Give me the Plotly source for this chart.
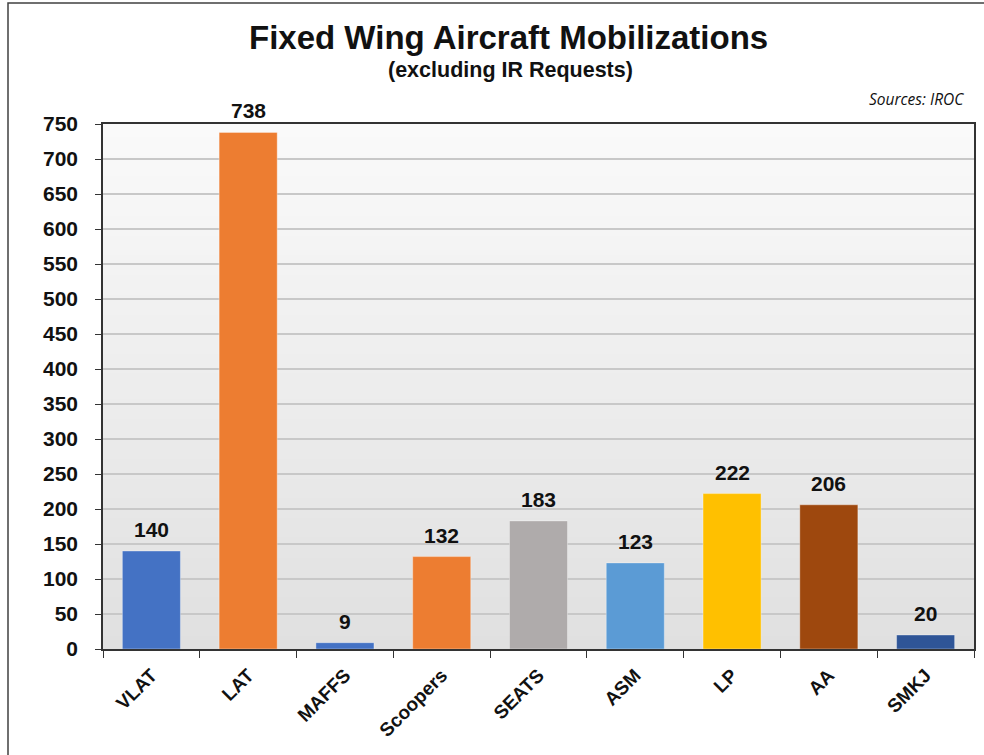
import plotly.graph_objects as go

categories = ["VLAT", "LAT", "MAFFS", "Scoopers", "SEATS", "ASM", "LP", "AA", "SMKJ"]
values = [140, 738, 9, 132, 183, 123, 222, 206, 20]
colors = ["#4472C4", "#ED7D31", "#4472C4", "#ED7D31", "#AFABAB", "#5B9BD5", "#FFC000", "#9E480E", "#2F5597"]
y_ticks = list(range(0, 751, 50))

W, H = 984, 755
L, R, T, B = 103, 10, 124, 106
pw = W - L - R
ph = H - T - B

fig = go.Figure()
fig.add_trace(go.Bar(
    x=categories, y=values, marker_color=colors, width=0.6,
    marker_line=dict(color="rgba(255,255,255,0.35)", width=1),
    cliponaxis=False,
))

annotations = []
for c, v in zip(categories, values):
    annotations.append(dict(x=c, y=v, xref="x", yref="y", text=f"<b>{v}</b>",
                            showarrow=False, yanchor="bottom", yshift=8,
                            font=dict(size=21, family="Liberation Sans, Arial", color="#111111")))

# gradient plot background
shapes = []
n = 80
for i in range(n):
    t = i / (n - 1)
    c = int(round(250 - (250 - 224) * (1 - t)))
    shapes.append(dict(type="rect", xref="x domain", yref="y domain",
                       x0=0, x1=1, y0=i / n, y1=min(1, (i + 1.6) / n),
                       fillcolor=f"rgb({c},{c},{c})", line_width=0, layer="below"))
# outer border: left x=8, top y=3, right/bottom beyond the picture
shapes.append(dict(type="rect", xref="paper", yref="paper",
                   x0=(8 - L) / pw, x1=(W + 10 - L) / pw,
                   y0=-(B + 10) / ph, y1=1 + (T - 3) / ph,
                   line=dict(color="#404040", width=1.5), fillcolor="rgba(0,0,0,0)"))

annotations += [
    dict(text="<b>Fixed Wing Aircraft Mobilizations</b>", xref="paper", yref="paper",
         x=(508 - L) / pw, y=1.0, yshift=T - 37, xanchor="center", yanchor="middle", showarrow=False,
         font=dict(size=33, family="Liberation Sans Narrow, Liberation Sans, Arial")),
    dict(text="<b>(excluding IR Requests)</b>", xref="paper", yref="paper",
         x=(510 - L) / pw, y=1.0, yshift=T - 70, xanchor="center", yanchor="middle", showarrow=False,
         font=dict(size=21.5, family="Liberation Sans Narrow, Liberation Sans, Arial")),
    dict(text="<i>Sources: IROC</i>", xref="paper", yref="paper",
         x=(966 - L) / pw, y=1.0, yshift=T - 99, xanchor="right", yanchor="middle", showarrow=False,
         font=dict(size=15.5, family="Open Sans, Lato")),
]

fig.update_layout(
    width=W, height=H,
    margin=dict(l=L, r=R, t=T, b=B),
    paper_bgcolor="white", plot_bgcolor="rgba(0,0,0,0)",
    showlegend=False, shapes=shapes, bargap=0.4,
    font=dict(family="Liberation Sans, Arial", color="#111111"),
    annotations=annotations,
)
fig.update_xaxes(
    type="category", tickangle=-45, tickson="boundaries", ticks="outside", ticklen=7,
    tickcolor="#333333", showline=True, linecolor="#333333", linewidth=1.5, mirror=True,
    tickfont=dict(size=19, family="Liberation Sans, Arial", weight="bold"), showgrid=False,
    ticklabelstandoff=6, automargin=False,
)
fig.update_yaxes(
    range=[0, 750], tickvals=y_ticks, ticks="outside", ticklen=6, tickcolor="#333333",
    showline=True, linecolor="#333333", linewidth=1.5, mirror=True,
    gridcolor="#c8c8c8", gridwidth=1.5, zeroline=False, ticklabelstandoff=13,
    tickfont=dict(size=21, family="Liberation Sans, Arial", weight="bold"),
    automargin=False,
)
fig.write_html("out.html", config={"displayModeBar": False},
               post_script="document.body.style.margin='0';")
